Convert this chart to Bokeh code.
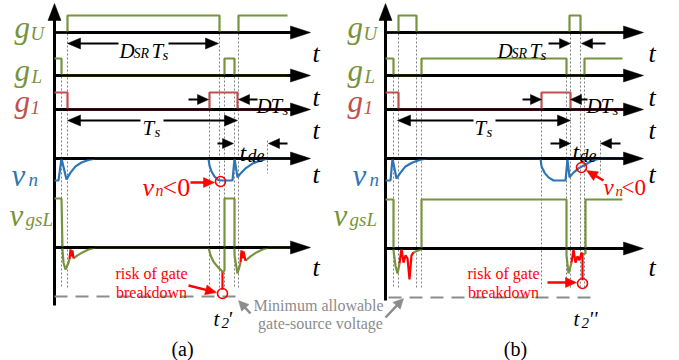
from bokeh.plotting import figure
from bokeh.models import Range1d, ColumnDataSource
from bokeh.core.properties import value
from bokeh.embed import file_html
from bokeh.resources import INLINE

# ------------------------------------------------------------------ data
# time is measured (in drawing units) from each panel's vertical axis
# digital gate signals: initial logic level, edge times, end time
gU_a_init, gU_a_edges, gU_a_end = 0, [13, 165, 184], 233
gL_a_init, gL_a_edges, gL_a_end = 1, [7, 170, 180], 233
g1_a_init, g1_a_edges, g1_a_end = 1, [13, 155, 183], 233

gU_b_init, gU_b_edges, gU_b_end = 0, [13, 31, 184, 195], 238
gL_b_init, gL_b_edges, gL_b_end = 1, [8, 36, 181, 199], 237
g1_b_init, g1_b_edges, g1_b_end = 1, [13, 156, 185], 238

# v_n (normalised, low level = -1)
vn_a_t = [0, 4, 7, 12, 16, 21, 27, 34, 41, 154, 155, 157, 160, 164, 168, 178, 180, 183, 186, 191, 198, 206, 214, 236]
vn_a_v = [-1, -1, 0, -0.95, -0.64, -0.36, -0.18, -0.07, 0, 0, -0.32, -0.59, -0.82, -0.98, -1, -1, 0, -0.86, -0.68, -0.45, -0.23, -0.09, 0, 0]
vn_b_t = [0, 5, 7, 11, 15, 20, 27, 35, 42, 155, 156, 159, 163, 168, 180, 182, 184, 188, 193, 200, 207, 215, 237]
vn_b_v = [-1, -1, 0, -0.91, -0.64, -0.36, -0.18, -0.05, 0, 0, -0.36, -0.64, -0.86, -1, -1, -0.05, -0.86, -0.64, -0.45, -0.27, -0.09, 0, 0]

# v_gsL (normalised, on level = 1); green parts and red ringing parts
vgs_a_green = [
    ([0, 7, 8, 9, 11, 14, 15], [1, 1, -0.06, -0.31, -0.45, -0.31, -0.24]),
    ([19, 23, 28, 34, 41, 154, 156, 159, 163, 167, 168],
     [-0.22, -0.16, -0.10, -0.04, 0, 0, -0.16, -0.29, -0.39, -0.47, -0.51]),
    ([168, 170, 170, 180, 180, 183, 185, 186], [-0.51, -0.47, 1, 1, -0.16, -0.53, -0.39, -0.31]),
    ([191, 196, 202, 208, 214, 236], [-0.27, -0.18, -0.10, -0.04, 0, 0]),
]
vgs_a_red = [
    ([15, 16, 17, 18, 19], [-0.24, -0.04, -0.18, -0.06, -0.22]),
    ([168, 168], [-0.51, -0.86]),
    ([186, 187, 188, 189, 191], [-0.31, -0.06, -0.22, -0.08, -0.27]),
]
vgs_b_green = [
    ([0, 8, 8, 10, 12, 14], [1, 1, -0.04, -0.35, -0.51, -0.31]),
    ([28, 35, 36, 36, 181, 181, 183, 186], [-0.08, -0.02, -0.02, 1, 1, -0.14, -0.51, -0.29]),
    ([197, 200, 200, 237], [-0.12, -0.10, 1, 1]),
]
vgs_b_red = [
    ([14, 16, 18, 20, 22, 24, 26, 28], [-0.31, 0, -0.29, -0.14, -0.2, -0.63, -0.14, -0.08]),
    ([186, 188, 190, 192, 194, 196, 197, 197], [-0.29, -0.02, -0.29, -0.16, -0.24, -0.08, -0.16, -0.65]),
]

# ------------------------------------------------------------------ layout / style
GREEN, RED1, BLUE, RED, GRAY, DOT = "#77933C", "#C0504D", "#2E75B6", "#FF0000", "#8C8C8C", "#808080"
FONT = value("Liberation Serif")
W, H = 679, 360
X0 = {"a": 54, "b": 385}
TIP = {"a": 310, "b": 643}
AX_BOTTOM = {"a": 305, "b": 300}
ROW = {"gU": 32, "gL": 75, "g1": 109, "vn": 158}
VGS_AX = {"a": 247, "b": 248}
DAMP, VN_SC, VGS_SC = 17, 22, 49

p = figure(width=W, height=H, x_range=Range1d(0, W), y_range=Range1d(H, 0),
           output_backend="svg", toolbar_location=None, min_border=0,
           x_axis_location=None, y_axis_location=None)
p.grid.visible = False
p.outline_line_color = None
p.background_fill_color = "white"


def steps(x0, ay, init, edges, end):
    xs, ys, lv = [x0], [ay - DAMP * init], init
    for e in edges:
        xs += [x0 + e, x0 + e]
        ys += [ay - DAMP * lv, ay - DAMP * (1 - lv)]
        lv = 1 - lv
    xs.append(x0 + end)
    ys.append(ay - DAMP * lv)
    return xs, ys


def analog(x0, ay, sc, t, v):
    return [x0 + a for a in t], [ay - sc * b for b in v]


heads = {"xs": [], "ys": [], "c": []}
shafts = {"x0": [], "y0": [], "x1": [], "y1": [], "c": [], "w": []}


def arrow(tail, tip, L=12, Wd=11, c="black", w=2):
    dx, dy = tip[0] - tail[0], tip[1] - tail[1]
    n = (dx * dx + dy * dy) ** 0.5
    ux, uy = dx / n, dy / n
    bx, by = tip[0] - ux * L, tip[1] - uy * L
    px, py = -uy, ux
    heads["xs"].append([tip[0], bx + px * Wd / 2, bx - px * Wd / 2])
    heads["ys"].append([tip[1], by + py * Wd / 2, by - py * Wd / 2])
    heads["c"].append(c)
    shafts["x0"].append(tail[0]); shafts["y0"].append(tail[1])
    shafts["x1"].append(tip[0] - ux * L * 0.7); shafts["y1"].append(tip[1] - uy * L * 0.7)
    shafts["c"].append(c); shafts["w"].append(w)


# dotted guide lines: (time, top)
guides = {
    "a": [(7, 60), (13, 33), (155, 94), (165, 33), (170, 60), (180, 60), (184, 33)],
    "b": [(8, 60), (13, 33), (31, 33), (36, 77), (156, 94), (181, 60), (185, 33), (195, 33), (199, 77)],
}
tde_guide = {"a": 213, "b": 215}
for k in "ab":
    for t, top in guides[k]:
        p.line([X0[k] + t] * 2, [top, 287], line_color=DOT, line_width=1, line_dash="2 2")
    p.line([X0[k] + tde_guide[k]] * 2, [140, 173], line_color=DOT, line_width=1, line_dash="2 2")

# axes
for k in "ab":
    for ay in list(ROW.values()) + [VGS_AX[k]]:
        p.line([X0[k], TIP[k] - 15], [ay, ay], line_color="black", line_width=3)
        arrow((X0[k], ay), (TIP[k], ay), L=20, Wd=13)
    p.line([X0[k], X0[k]], [AX_BOTTOM[k], 16], line_color="black", line_width=3)
    arrow((X0[k], 40), (X0[k], 3), L=17, Wd=13)

# min allowable dashed lines
p.line([54, 237], [296, 296], line_color=GRAY, line_width=2, line_dash="13 8")
p.line([388, 595], [297, 297], line_color=GRAY, line_width=2, line_dash="13 8")

# gate signals
dig = {
    "a": [("gU", gU_a_init, gU_a_edges, gU_a_end, GREEN), ("gL", gL_a_init, gL_a_edges, gL_a_end, GREEN),
          ("g1", g1_a_init, g1_a_edges, g1_a_end, RED1)],
    "b": [("gU", gU_b_init, gU_b_edges, gU_b_end, GREEN), ("gL", gL_b_init, gL_b_edges, gL_b_end, GREEN),
          ("g1", g1_b_init, g1_b_edges, g1_b_end, RED1)],
}
for k in "ab":
    for row, init, edges, end, col in dig[k]:
        xs, ys = steps(X0[k], ROW[row], init, edges, end)
        p.line(xs, ys, line_color=col, line_width=2.2)

# v_n
for k, (t, v) in {"a": (vn_a_t, vn_a_v), "b": (vn_b_t, vn_b_v)}.items():
    xs, ys = analog(X0[k], ROW["vn"], VN_SC, t, v)
    p.line(xs, ys, line_color=BLUE, line_width=2.2)

# v_gsL
for k, green, red in (("a", vgs_a_green, vgs_a_red), ("b", vgs_b_green, vgs_b_red)):
    for t, v in green:
        xs, ys = analog(X0[k], VGS_AX[k], VGS_SC, t, v)
        p.line(xs, ys, line_color=GREEN, line_width=2.2)
    for t, v in red:
        xs, ys = analog(X0[k], VGS_AX[k], VGS_SC, t, v)
        p.line(xs, ys, line_color=RED, line_width=2.2)

# annotation arrows
for tail, tip in [((118, 43), (67, 43)), ((168, 43), (218, 43)), ((140, 120), (67, 120)), ((163, 120), (237, 120)),
                  ((473, 120), (397, 120)), ((495, 120), (570, 120))]:
    arrow(tail, tip, L=13, Wd=11)
for tail, tip in [((188, 99), (208, 99)), ((257, 99), (238, 99)), ((217, 143), (233, 143)), ((287, 143), (268, 143)),
                  ((548, 43), (570, 43)), ((605, 43), (581, 43)), ((522, 99), (541, 99)), ((587, 99), (570, 99)),
                  ((550, 143), (570, 143)), ((620, 143), (600, 143))]:
    arrow(tail, tip, L=11, Wd=10)
for tail, tip in [((190, 182), (214, 182)), ((188, 285), (216, 292)), ((603, 180), (586, 170)), ((547, 282), (576, 282))]:
    arrow(tail, tip, L=11, Wd=10, c=RED, w=2.5)
for tail, tip in [((250, 313), (238, 300)), ((385, 317), (403, 298))]:
    arrow(tail, tip, L=10, Wd=10, c=GRAY, w=2.5)

p.segment("x0", "y0", "x1", "y1", source=ColumnDataSource(shafts), line_color="c", line_width="w")
p.patches("xs", "ys", source=ColumnDataSource(heads), fill_color="c", line_color="c", line_width=0.5)

# red circles
p.scatter([220, 222, 581, 582], [181, 293, 167, 283], marker="circle", size=10,
          fill_color=None, line_color=RED, line_width=1.6)

# ------------------------------------------------------------------ texts
T = []  # x, y, text, size, color, style, align


def tx(x, y, s, size, col="black", style="italic", align="left"):
    T.append((x, y, s, "%dpx" % size, col, style, align))


# row labels (panel a, panel b)
for gx, sx, vx, nx, vgx, gsx in ((14, 30, 11, 28, 9, 25), (347, 363, 352, 369, 333, 349)):
    tx(gx, 27, "g", 31, GREEN); tx(sx, 33, "U", 19, GREEN)
    tx(gx, 70, "g", 31, GREEN); tx(sx + 1, 76, "L", 19, GREEN)
    tx(gx, 101, "g", 31, RED1); tx(sx, 107, "1", 19, RED1)
    tx(vx, 175, "v", 31, BLUE); tx(nx, 179, "n", 19, BLUE)
    tx(vgx, 215, "v", 31, GREEN); tx(gsx, 219, "gsL", 19, GREEN)
for x in (312, 648):
    for y in (53, 97, 130, 174, 267):
        tx(x, y, "t", 26)

# D_SR T_s
for d in (0, 378):
    tx(119 + d, 50, "D", 21); tx(133 + d, 53, "SR", 14); tx(151 + d, 50, "T", 21); tx(162 + d, 54, "s", 15)
# D T_s
for d in (0, 330):
    tx(256 + d, 105, "D", 21); tx(270 + d, 105, "T", 21); tx(282 + d, 109, "s", 15)
# T_s
for xo in (142, 474):
    tx(xo, 127, "T", 21); tx(xo + 12, 131, "s", 15)
# t_de
tx(239, 152, "t", 24); tx(247, 155, "de", 18)
tx(572, 151, "t", 24); tx(579, 155, "de", 18)
# v_n<0
tx(142, 187, "v", 26, RED); tx(155, 190, "n", 16, RED); tx(162, 187, "<0", 26, RED, "normal")
tx(603, 187, "v", 23, RED); tx(615, 190, "n", 15, RED); tx(621, 187, "<0", 23, RED, "normal")
# risk of gate breakdown
for cx in (151, 503):
    tx(cx, 273, "risk of gate", 16, RED, "normal", "center")
    tx(cx, 292, "breakdown", 16, RED, "normal", "center")
# t2' / t2''
tx(213, 318, "t", 21); tx(221, 322, "2", 15); tx(227, 318, "'", 21)
tx(573, 318, "t", 21); tx(581, 322, "2", 15); tx(588, 318, "''", 21)
# minimum allowable
tx(318, 305, "Minimum allowable", 16, GRAY, "normal", "center")
tx(320, 323, "gate-source voltage", 16, GRAY, "normal", "center")
# panel labels
tx(182, 348, "(a)", 20, "black", "normal", "center")
tx(515, 348, "(b)", 20, "black", "normal", "center")

src = ColumnDataSource(dict(x=[t[0] for t in T], y=[t[1] for t in T], text=[t[2] for t in T],
                            size=[t[3] for t in T], color=[t[4] for t in T], style=[t[5] for t in T],
                            align=[t[6] for t in T]))
p.text("x", "y", text="text", source=src, text_font=FONT, text_font_size="size", text_color="color",
       text_font_style="style", text_align="align", text_baseline="alphabetic")

open("out.html", "w").write(file_html(p, INLINE))
